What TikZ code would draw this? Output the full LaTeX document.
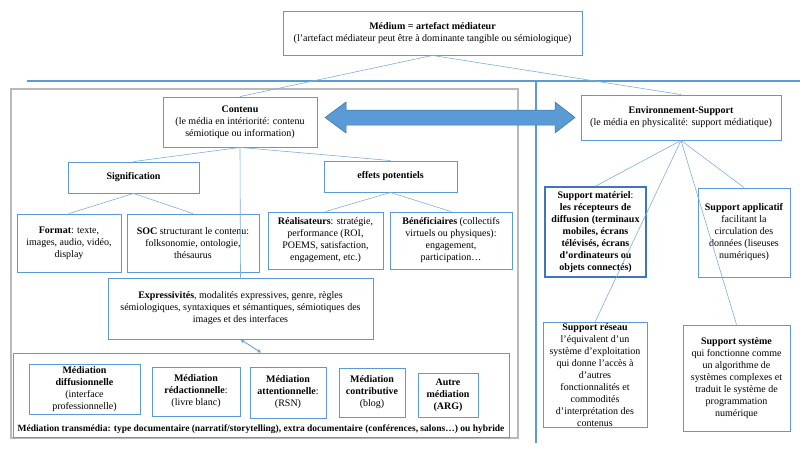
\documentclass[tikz,border=0pt]{standalone}
\usepackage{fontspec}
\setmainfont{Liberation Serif}
\definecolor{boxblue}{RGB}{91,155,213}
\definecolor{linkblue}{RGB}{125,175,222}
\definecolor{framegray}{RGB}{185,185,185}
\definecolor{arrowedge}{RGB}{65,113,156}
\definecolor{strongblue}{RGB}{62,118,186}
\tikzset{
  box/.style={draw=boxblue, line width=0.9pt, fill=white, align=center, inner sep=1pt,
    font=\fontsize{10}{12}\selectfont},
  strongbox/.style={box, draw=strongblue, line width=1.6pt},
  link/.style={draw=linkblue, line width=0.6pt},
  rule/.style={draw=boxblue, line width=1.6pt},
}

\begin{document}
\begin{tikzpicture}[x=1pt,y=-1pt]
\useasboundingbox (0,0) rectangle (800,455);

\draw [rule] (27,81) -- (800,81);
\draw [rule] (536,81) -- (536,443);
\draw [framegray, line width=1.4pt] (11,89) rectangle (518,438);

\node [box, minimum width=299, minimum height=44] (medium) at (432.5,33)
  {\textbf{Médium = artefact  médiateur}\\(l’artefact  médiateur peut être à dominante tangible  ou sémiologique)};
\node [box, minimum width=154, minimum height=50] (contenu) at (240,122)
  {\textbf{Contenu}\\(le média en intériorité:  contenu\\sémiotique ou information)};
\node [box, minimum width=200, minimum height=45] (env) at (681,117.5)
  {\textbf{Environnement-Support}\\(le média en physicalité:  support médiatique)};

\node [box, minimum width=131, minimum height=31] (signif) at (133.5,177.5) {\textbf{Signification}};
\node [box, minimum width=133, minimum height=31] (effets) at (390.5,176.5) {\textbf{effets potentiels}};

\node [box, minimum width=104, minimum height=58] (format) at (69,243)
  {\textbf{Format}: texte,\\images, audio, vidéo,\\display};
\node [box, minimum width=132, minimum height=58] (soc) at (193,243)
  {\textbf{SOC} structurant le contenu:\\folksonomie, ontologie,\\thésaurus};
\node [box, minimum width=115, minimum height=57] (realis) at (325.5,240.5)
  {\textbf{Réalisateurs}: stratégie,\\performance (ROI,\\POEMS, satisfaction,\\engagement, etc.)};
\node [box, minimum width=122, minimum height=57] (benef) at (451,240.5)
  {\textbf{Bénéficiaires} (collectifs\\virtuels  ou physiques):\\engagement,\\participation…};

\node [box, minimum width=265, minimum height=61] (express) at (240.5,308.5)
  {\textbf{Expressivités}, modalités expressives, genre, règles\\sémiologiques, syntaxiques et sémantiques, sémiotiques des\\images et des interfaces};

\node [box, minimum width=496, minimum height=84] (transmedia) at (261,395) {};
\node [box, draw=none, fill=none, font=\fontsize{9.5}{11}\selectfont, anchor=south] (transtext)
  at ([yshift=2pt]transmedia.south)
  {\textbf{Médiation transmédia}\textbf{: type documentaire (narratif/storytelling),  extra documentaire (conférences, salons…) ou hybride}};
\node [box, minimum width=111, minimum height=50] (diffus) at (84.5,389)
  {\textbf{Médiation}\\\textbf{diffusionnelle}\\(interface\\professionnelle)};
\node [box, minimum width=88, minimum height=49] (redac) at (196,391.5)
  {\textbf{Médiation}\\\textbf{rédactionnelle}:\\(livre  blanc)};
\node [box, minimum width=76, minimum height=51] (attent) at (288,392.5)
  {\textbf{Médiation}\\\textbf{attentionnelle}:\\(RSN)};
\node [box, minimum width=66, minimum height=49] (contrib) at (372,392.5)
  {\textbf{Médiation}\\\textbf{contributive}\\(blog)};
\node [box, minimum width=60, minimum height=44] (autre) at (448,395)
  {\textbf{Autre}\\\textbf{médiation}\\\textbf{(ARG)}};

\node [strongbox, minimum width=101, minimum height=90] (materiel) at (595.5,232)
  {\textbf{Support  matériel}:\\\textbf{les récepteurs de}\\\textbf{diffusion (terminaux}\\\textbf{mobiles, écrans}\\\textbf{télévisés, écrans}\\\textbf{d’ordinateurs ou}\\\textbf{objets connectés)}};
\node [box, minimum width=92, minimum height=89] (applic) at (744,232.5)
  {\textbf{Support applicatif}\\facilitant  la\\circulation des\\données (liseuses\\numériques)};
\node [box, minimum width=104, minimum height=104] (reseau) at (595,375)
  {\textbf{Support réseau}\\l’équivalent  d’un\\système d’exploitation\\qui donne l’accès à\\d’autres\\fonctionnalités et\\commodités\\d’interprétation des\\contenus};
\node [box, minimum width=107, minimum height=106] (systeme) at (736.5,378)
  {\textbf{Support système}\\qui fonctionne comme\\un algorithme de\\systèmes complexes et\\traduit le système de\\programmation\\numérique};

\draw [link] (medium.south) -- (contenu.north);
\draw [link] (medium.south) -- (env.north);
\draw [link] (contenu.south) -- (signif.north);
\draw [link] (contenu.south) -- (effets.north);
\draw [link] (contenu.south) -- (express.north);
\draw [link] (signif.south) -- (format.north);
\draw [link] (signif.south) -- (soc.north);
\draw [link] (effets.south) -- (realis.north);
\draw [link] (effets.south) -- (benef.north);
\draw [link] (env.south) -- (materiel.north);
\draw [link] (env.south) -- (applic.north);
\draw [link] (env.south) -- (reseau.north);
\draw [link] (env.south) -- (systeme.north);
\draw [link, draw=boxblue, line width=0.8pt, <->, >=stealth] (express.south) -- (transmedia.north);

\filldraw [fill=boxblue, draw=arrowedge, line width=0.5pt]
  (325,117.5) -- (346,102) -- (346,110) -- (555,110) -- (555,102) -- (575,117.5)
  -- (555,133) -- (555,125) -- (346,125) -- (346,133) -- cycle;
\end{tikzpicture}
\end{document}
